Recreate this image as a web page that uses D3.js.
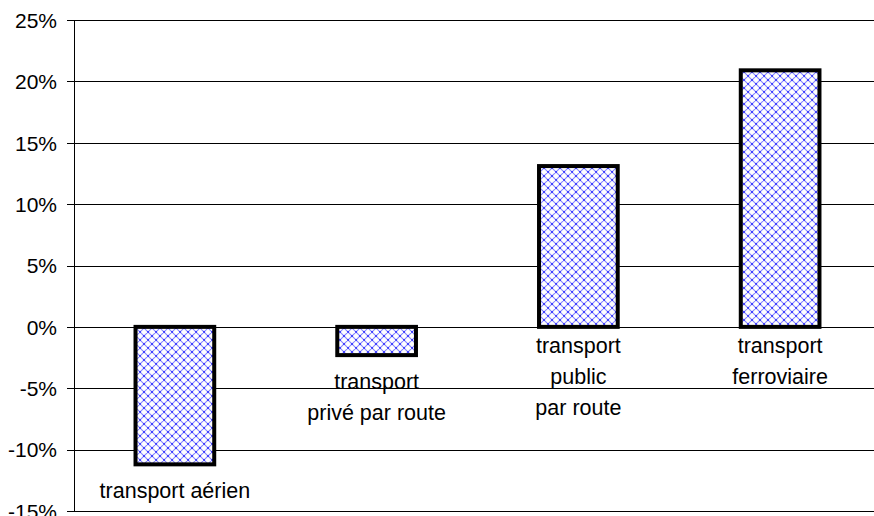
<!DOCTYPE html>
<html>
<head>
<meta charset="utf-8">
<script src="https://cdn.jsdelivr.net/npm/d3@7"></script>
<style>
  html, body { margin: 0; padding: 0; background: #fff; }
  svg { display: block; }
  text { font-family: "Liberation Sans", Arial, Helvetica, sans-serif; fill: #000; }
</style>
</head>
<body>
<svg id="chart" width="874" height="516"></svg>
<script>
// Variation by mode of transport (%)
const categories = ["air", "road_private", "road_public", "rail"];
const categoryLabels = [
  ["transport aérien"],
  ["transport", "privé par route"],
  ["transport", "public", "par route"],
  ["transport", "ferroviaire"]
];
const values = [-11.2, -2.3, 13.1, 20.9];
const yTicks = [-15, -10, -5, 0, 5, 10, 15, 20, 25];

const svg = d3.select("#chart");
const plotLeft = 74, plotTop = 20, plotBottom = 511, plotRight = 881;

const x = d3.scaleBand()
  .domain(categories)
  .range([plotLeft, plotRight])
  .paddingInner(0.6)
  .paddingOuter(0.3);

const y = d3.scaleLinear().domain([-15, 25]).range([plotBottom, plotTop]);

// Crosshatch fill
const defs = svg.append("defs");
const pat = defs.append("pattern")
  .attr("id", "lattice")
  .attr("patternUnits", "userSpaceOnUse")
  .attr("width", 8).attr("height", 8);
pat.append("rect").attr("width", 8).attr("height", 8).attr("fill", "#fff");
pat.append("path")
  .attr("d", "M0,0L8,8M8,0L0,8M-1,7L1,9M7,-1L9,1")
  .attr("stroke", "#8585ff").attr("stroke-width", 1.1).attr("fill", "none");
[[0,0],[8,0],[0,8],[8,8],[4,4]].forEach(([cx, cy]) => {
  pat.append("rect").attr("x", cx - 0.8).attr("y", cy - 0.8)
    .attr("width", 1.6).attr("height", 1.6).attr("fill", "#1a1aff");
});

// Horizontal gridlines with tick marks
const yAxis = d3.axisLeft(y)
  .tickValues(yTicks)
  .tickSize(-(plotRight - plotLeft))
  .tickFormat(d => d + "%");
const gy = svg.append("g")
  .attr("transform", `translate(${plotLeft},0)`)
  .call(yAxis);
gy.select(".domain").remove();
gy.selectAll(".tick line")
  .attr("x1", -7)
  .attr("stroke", "#000").attr("stroke-width", 1)
  .attr("shape-rendering", "crispEdges");
gy.selectAll(".tick text")
  .attr("x", -17)
  .attr("dy", "0.35em")
  .style("font-size", "21px")
  .style("font-family", "'Liberation Sans', Arial, sans-serif");

// Vertical axis line
svg.append("line")
  .attr("x1", plotLeft).attr("x2", plotLeft)
  .attr("y1", y(25)).attr("y2", y(-15))
  .attr("stroke", "#000").attr("stroke-width", 1)
  .attr("shape-rendering", "crispEdges");

// Bars
svg.append("g").selectAll("rect")
  .data(values)
  .join("rect")
  .attr("x", (d, i) => x(categories[i]) + 1)
  .attr("width", x.bandwidth() - 2)
  .attr("y", d => y(Math.max(0, d)))
  .attr("height", d => Math.abs(y(d) - y(0)))
  .attr("fill", "url(#lattice)")
  .attr("stroke", "#000")
  .attr("stroke-width", 4);

// Category labels below the bar end (negative) or the zero line (positive)
const lineH = 31;
categoryLabels.forEach((lines, i) => {
  const v = values[i];
  const anchorY = v < 0 ? y(v) + 2 : y(0);
  const cx = x(categories[i]) + x.bandwidth() / 2;
  const firstY = anchorY + (v < 0 ? 24 : 19);
  svg.append("text")
    .attr("text-anchor", "middle")
    .style("font-size", "21.5px")
    .selectAll("tspan")
    .data(lines)
    .join("tspan")
    .attr("x", cx)
    .attr("y", (d, j) => firstY + j * lineH)
    .attr("dy", "0.35em")
    .text(d => d);
});
</script>
</body>
</html>
